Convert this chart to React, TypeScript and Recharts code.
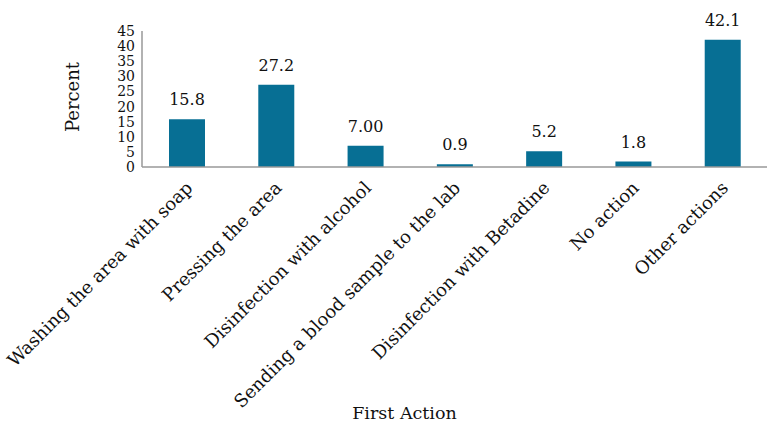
import React from "react";
import { BarChart, Bar, XAxis, YAxis, LabelList } from "recharts";

const categories = [
  "Washing the area with soap",
  "Pressing the area",
  "Disinfection with alcohol",
  "Sending a blood sample to the lab",
  "Disinfection with Betadine",
  "No action",
  "Other actions",
];
const percents = [15.8, 27.2, 7.0, 0.9, 5.2, 1.8, 42.1];
const valueLabels = ["15.8", "27.2", "7.00", "0.9", "5.2", "1.8", "42.1"];
const yTicks = [0, 5, 10, 15, 20, 25, 30, 35, 40, 45];

const data = categories.map((c, i) => ({ name: c, value: percents[i], label: valueLabels[i] }));

const FONT = "'DejaVu Serif', serif";

const CatTick = (props: any) => {
  const { x, y, payload } = props;
  const ax = x + 7;
  const ay = y + 14;
  return (
    <text
      x={ax}
      y={ay}
      transform={`rotate(-45, ${ax}, ${ay})`}
      textAnchor="end"
      fontFamily={FONT}
      fontSize={18}
      fill="#111"
    >
      {payload.value}
    </text>
  );
};

export default function App() {
  return (
    <div style={{ position: "absolute", left: 0, top: 0, width: 774, height: 432, background: "#fff" }}>
      <BarChart
        width={774}
        height={432}
        data={data}
        margin={{ top: 31, right: 7, left: 0, bottom: 0 }}
        barCategoryGap={0}
      >
        <XAxis
          dataKey="name"
          height={265}
          interval={0}
          tickLine={false}
          axisLine={{ stroke: "#999", strokeWidth: 1.5 }}
          tick={<CatTick />}
          label={{
            value: "First Action",
            position: "insideBottom",
            offset: 13,
            dx: -50,
            style: { fontFamily: FONT, fontSize: 17.5, fill: "#111" },
          }}
        />
        <YAxis
          width={142}
          domain={[0, 45]}
          ticks={yTicks}
          interval={0}
          tickLine={false}
          tickSize={0}
          tickMargin={7}
          axisLine={{ stroke: "#999", strokeWidth: 1.5 }}
          tick={{ fontFamily: FONT, fontSize: 14, fill: "#111" }}
          label={{
            value: "Percent",
            angle: -90,
            position: "insideLeft",
            dx: 68,
            dy: -2,
            style: { fontFamily: FONT, fontSize: 18, fill: "#111", textAnchor: "middle" },
          }}
        />
        <Bar dataKey="value" fill="#076F94" barSize={36} isAnimationActive={false}>
          <LabelList
            dataKey="label"
            position="top"
            offset={14}
            style={{ fontFamily: FONT, fontSize: 16, fill: "#111" }}
          />
        </Bar>
      </BarChart>
    </div>
  );
}
